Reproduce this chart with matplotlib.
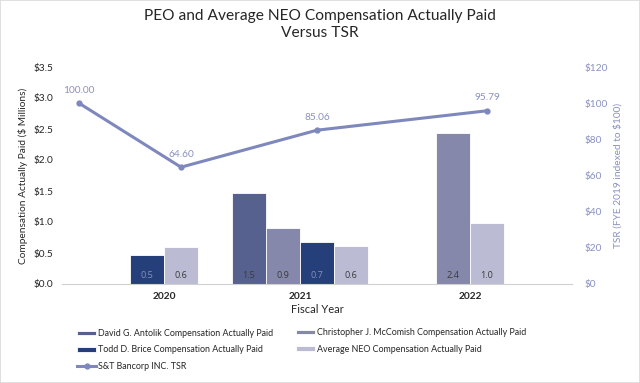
import matplotlib
matplotlib.use("Agg")
import matplotlib.pyplot as plt
from matplotlib.patches import Rectangle
import numpy as np

plt.rcParams['font.family'] = ['Lato', 'DejaVu Sans']

# ---- data ----
years = ["2020", "2021", "2022"]
antolik = [None, 1.46, None]
mccomish = [None, 0.90, 2.43]
brice = [0.47, 0.68, None]
avg_neo = [0.60, 0.61, 0.98]
antolik_labels = [None, "1.5", None]
mccomish_labels = [None, "0.9", "2.4"]
brice_labels = ["0.5", "0.7", None]
avg_labels = ["0.6", "0.6", "1.0"]
tsr_values = [100.00, 64.60, 85.06, 95.79]
tsr_labels = ["100.00", "64.60", "85.06", "95.79"]
left_ticks = [0, 0.5, 1.0, 1.5, 2.0, 2.5, 3.0, 3.5]
right_ticks = [0, 20, 40, 60, 80, 100, 120]

# ---- layout (positions in bar-width units) ----
group_centers = [0, 4, 9]
tsr_x = [-2.5, 0.5, 4.5, 9.5]
bw = 1.0

col_antolik = "#566190"
col_mccomish = "#8587AB"
col_brice = "#253F7A"
col_avg = "#BBBCD4"
col_line = "#7F88BD"
col_tsrtext = "#8A91C2"
txt = "#262626"

fig = plt.figure(figsize=(6.4, 3.83), dpi=100)
ax = fig.add_axes([62/640, 1-284/383, (572-62)/640, (284-67)/383])
ax2 = ax.twinx()

series = [
    ("David G. Antolik Compensation Actually Paid", antolik, antolik_labels, col_antolik, "#3a3a3a"),
    ("Christopher J. McComish Compensation Actually Paid", mccomish, mccomish_labels, col_mccomish, "#3a3a3a"),
    ("Todd D. Brice Compensation Actually Paid", brice, brice_labels, col_brice, "#8890b8"),
    ("Average NEO Compensation Actually Paid", avg_neo, avg_labels, col_avg, "#3a3a3a"),
]

handles = {}
for gi, c in enumerate(group_centers):
    present = [s for s in series if s[1][gi] is not None]
    n = len(present)
    for k, (name, vals, labs, col, lc) in enumerate(present):
        x = c + (k - (n - 1) / 2) * bw
        b = ax.bar(x, vals[gi], width=bw, color=col, edgecolor="white", linewidth=0.6, label=name, zorder=2)
        handles[name] = b
        ax.text(x, 0.13, labs[gi], ha="center", va="center", fontsize=6.6,
                family=["Open Sans", "DejaVu Sans"], color=lc, zorder=3)

ax.set_xlim(-3, 12)
ax.set_ylim(0, 3.5)
ax.set_yticks(left_ticks)
ax.set_yticklabels([f"${v:.1f}" for v in left_ticks], fontsize=7.3, color=txt)
ax.set_xticks(group_centers)
ax.set_xticklabels(years, fontsize=7.3, fontweight="bold", color=txt)
ax.tick_params(axis="both", length=0, pad=6)
ax.set_xlabel("Fiscal Year", fontsize=8, color=txt, labelpad=2)
ax.set_ylabel("Compensation Actually Paid ($ Millions)", fontsize=7.3, color=txt, labelpad=4)
for sp in ["top", "right", "left"]:
    ax.spines[sp].set_visible(False)
ax.spines["bottom"].set_color("#d0d0d0")

line, = ax2.plot(tsr_x, tsr_values, color=col_line, linewidth=2.2, marker="o", markersize=3.5,
                 label="S&T Bancorp INC. TSR", zorder=4)
for x, v, l in zip(tsr_x, tsr_values, tsr_labels):
    ax2.annotate(l, (x, v), xytext=(0, 6), textcoords="offset points",
                 ha="center", va="bottom", fontsize=7.3, color=col_tsrtext)
ax2.set_ylim(0, 120)
ax2.set_yticks(right_ticks)
ax2.set_yticklabels([f"${v}" for v in right_ticks], fontsize=7.3, color=col_tsrtext)
ax2.tick_params(axis="y", length=0, pad=9)
ax2.set_ylabel("TSR (FYE 2019 indexed to $100)", fontsize=7.3, color=col_tsrtext, labelpad=4)
for sp in ax2.spines.values():
    sp.set_visible(False)

fig.text(0.5, 1-9/383, "PEO and Average NEO Compensation Actually Paid\nVersus TSR",
         ha="center", va="top", fontsize=11.2, color=txt, linespacing=1.25)

# fit legend font so the first label spans ~175 px like the reference
renderer = fig.canvas.get_renderer()
probe = fig.text(0, 0, series[0][0], fontsize=10)
w10 = probe.get_window_extent(renderer).width
probe.remove()
leg_fs = 10 * 175 / w10

common = dict(frameon=False, fontsize=leg_fs, handleheight=0.38, labelspacing=0.82,
              handletextpad=0.2, labelcolor=txt, borderpad=0, borderaxespad=0)
hlen = 19 / (leg_fs * 100 / 72)
fig.legend([handles[series[0][0]], handles[series[2][0]], line],
           [series[0][0], series[2][0], "S&T Bancorp INC. TSR"],
           loc="center left", bbox_to_anchor=(77/640, 1-350/383), handlelength=hlen, **common)
fig.legend([handles[series[1][0]], handles[series[3][0]]],
           [series[1][0], series[3][0]],
           loc="center left", bbox_to_anchor=(296/640, 1-341/383), handlelength=hlen, **common)

fig.patches.append(Rectangle((0, 0), 1, 1, transform=fig.transFigure, fill=False,
                             edgecolor="#d9d9d9", linewidth=1.2))
fig.savefig("out.png", dpi=100)
